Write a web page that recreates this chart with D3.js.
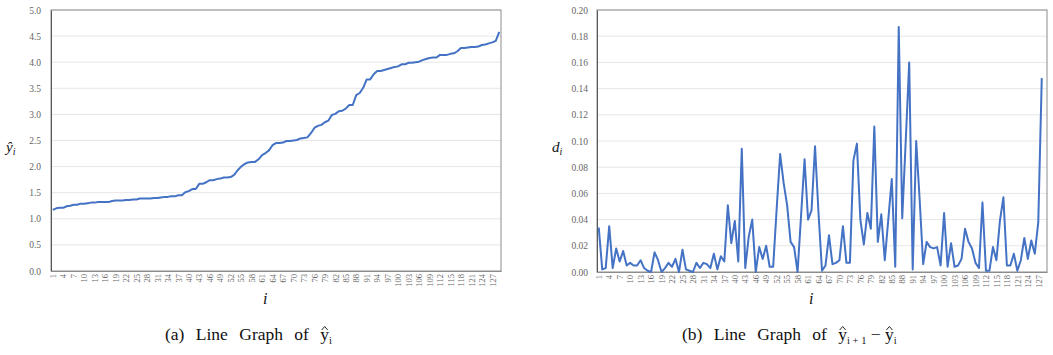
<!DOCTYPE html>
<html lang="en">
<head>
<meta charset="UTF-8">
<title>Line Graphs of y-hat and its differences</title>
<style>
  body { margin: 0; background: #fff; }
  svg text { font-family: "Liberation Serif", "DejaVu Serif", serif; }
</style>
</head>
<body>
<div id="chart"></div>
<script src="https://d3js.org/d3.v7.min.js"></script>
<script>
// categories on the x axis (1..129) and the labels that are shown
const index = d3.range(1, 130);
const xTickLabels = [1, 4, 7, 10, 13, 16, 19, 22, 25, 28, 31, 34, 37, 40, 43, 46, 49, 52, 55, 58,
  61, 64, 67, 70, 73, 76, 79, 82, 85, 88, 91, 94, 97, 100, 103, 106, 109, 112, 115, 118, 121, 124, 127];

// (a) fitted values y-hat_i
const yHat = [
  1.17, 1.20, 1.21, 1.21, 1.24, 1.25, 1.27, 1.27, 1.29, 1.29,
  1.30, 1.31, 1.31, 1.32, 1.32, 1.32, 1.32, 1.34, 1.35, 1.35,
  1.35, 1.36, 1.36, 1.37, 1.37, 1.39, 1.39, 1.39, 1.39, 1.40,
  1.40, 1.41, 1.42, 1.42, 1.43, 1.43, 1.45, 1.45, 1.51, 1.53,
  1.57, 1.57, 1.67, 1.67, 1.70, 1.74, 1.74, 1.76, 1.77, 1.79,
  1.79, 1.80, 1.84, 1.93, 2.00, 2.05, 2.08, 2.09, 2.09, 2.14,
  2.22, 2.26, 2.31, 2.41, 2.45, 2.45, 2.46, 2.49, 2.49, 2.50,
  2.51, 2.54, 2.55, 2.56, 2.64, 2.74, 2.78, 2.80, 2.85, 2.88,
  2.99, 3.01, 3.06, 3.07, 3.11, 3.18, 3.18, 3.37, 3.41, 3.51,
  3.67, 3.67, 3.77, 3.83, 3.83, 3.85, 3.87, 3.89, 3.91, 3.92,
  3.96, 3.96, 3.99, 3.99, 4.00, 4.01, 4.04, 4.06, 4.08, 4.09,
  4.09, 4.14, 4.14, 4.14, 4.16, 4.17, 4.21, 4.27, 4.27, 4.28,
  4.29, 4.29, 4.30, 4.33, 4.34, 4.36, 4.38, 4.41, 4.58
];

// (b) differences d_i
const diffs = [
  0.034, 0.002, 0.003, 0.035, 0.003, 0.018, 0.008, 0.016, 0.005, 0.007,
  0.005, 0.005, 0.009, 0.003, 0.001, 0.000, 0.015, 0.009, 0.000, 0.003,
  0.007, 0.004, 0.010, 0.000, 0.017, 0.002, 0.001, 0.000, 0.007, 0.003,
  0.007, 0.006, 0.003, 0.014, 0.002, 0.012, 0.008, 0.051, 0.022, 0.039,
  0.008, 0.094, 0.003, 0.027, 0.040, 0.000, 0.019, 0.010, 0.020, 0.004,
  0.004, 0.048, 0.090, 0.068, 0.051, 0.023, 0.019, 0.000, 0.043, 0.086,
  0.040, 0.047, 0.096, 0.045, 0.001, 0.005, 0.028, 0.006, 0.007, 0.009,
  0.035, 0.007, 0.007, 0.085, 0.098, 0.040, 0.021, 0.045, 0.033, 0.111,
  0.023, 0.044, 0.009, 0.040, 0.071, 0.004, 0.187, 0.041, 0.100, 0.160,
  0.002, 0.100, 0.055, 0.006, 0.023, 0.019, 0.018, 0.019, 0.005, 0.045,
  0.004, 0.022, 0.004, 0.005, 0.010, 0.033, 0.023, 0.018, 0.007, 0.003,
  0.053, 0.001, 0.001, 0.019, 0.009, 0.039, 0.057, 0.005, 0.005, 0.014,
  0.001, 0.009, 0.026, 0.010, 0.024, 0.014, 0.038, 0.148
];

const yHatTicks = [0, 0.5, 1.0, 1.5, 2.0, 2.5, 3.0, 3.5, 4.0, 4.5, 5.0];
const diffTicks = [0, 0.02, 0.04, 0.06, 0.08, 0.10, 0.12, 0.14, 0.16, 0.18, 0.20];

const serif = "Liberation Serif, DejaVu Serif, serif";

const svg = d3.select("#chart").append("svg")
  .attr("width", 1053)
  .attr("height", 355)
  .style("display", "block");

function drawPanel(p) {
  const x = d3.scalePoint().domain(index).range([p.x0, p.x1]).padding(0.5);
  const y = d3.scaleLinear().domain([p.ticks[0], p.ticks[p.ticks.length - 1]]).range([p.y1, p.y0]);
  const g = svg.append("g");

  // horizontal gridlines
  g.append("g").selectAll("line")
    .data(p.ticks.slice(1))
    .join("line")
    .attr("x1", p.x0).attr("x2", p.x1)
    .attr("y1", d => y(d)).attr("y2", d => y(d))
    .attr("stroke", "#e6e6e6");

  // plot frame
  g.append("rect")
    .attr("x", p.x0).attr("y", p.y0)
    .attr("width", p.x1 - p.x0).attr("height", p.y1 - p.y0)
    .attr("fill", "none")
    .attr("stroke", "#8c8c8c");

  // y axis
  const ya = g.append("g")
    .attr("transform", `translate(${p.x0},0)`)
    .call(d3.axisLeft(y).tickValues(p.ticks).tickFormat(d3.format(p.fmt)).tickSize(0).tickPadding(p.pad));
  ya.attr("font-family", serif).attr("font-size", 9.5);
  ya.select(".domain").attr("stroke", "#595959");
  ya.selectAll("text").attr("fill", "#666");

  // x axis, labels turned upright
  const xa = g.append("g")
    .attr("transform", `translate(0,${p.y1})`)
    .call(d3.axisBottom(x).tickValues(xTickLabels).tickSize(0));
  xa.attr("font-family", serif).attr("font-size", 8.5);
  xa.select(".domain").attr("stroke", "#8c8c8c");
  xa.selectAll("text")
    .attr("fill", "#666")
    .attr("transform", "rotate(-90)")
    .attr("x", -3).attr("y", 0).attr("dy", "0.32em")
    .style("text-anchor", "end");

  // data line
  g.append("path")
    .datum(p.values)
    .attr("fill", "none")
    .attr("stroke", "#4472c4")
    .attr("stroke-width", 2)
    .attr("stroke-linejoin", "round")
    .attr("d", d3.line().x((d, i) => x(index[i])).y(d => y(d)));

  // axis titles
  const yt = g.append("text")
    .attr("x", p.yTitleX).attr("y", 152)
    .attr("font-size", 15).attr("font-style", "italic").attr("fill", "#111");
  yt.append("tspan").text(p.yTitle);
  yt.append("tspan").text("i").attr("font-size", 10).attr("dy", 3);

  g.append("text")
    .attr("x", (p.x0 + p.x1) / 2 - 13).attr("y", 304)
    .attr("font-size", 16).attr("font-style", "italic").attr("fill", "#111")
    .text("i");
}

drawPanel({ x0: 51, x1: 501, y0: 10, y1: 271, values: yHat, ticks: yHatTicks, fmt: ".1f", pad: 10, yTitle: "ŷ", yTitleX: 6 });
drawPanel({ x0: 597, x1: 1047, y0: 10, y1: 272, values: diffs, ticks: diffTicks, fmt: ".2f", pad: 9, yTitle: "d", yTitleX: 552 });

// captions; a small hat is drawn above each y
function caption(x0, y0, parts) {
  const t = svg.append("text")
    .attr("x", x0).attr("y", y0)
    .attr("font-size", 17.5).attr("fill", "#111")
    .attr("xml:space", "preserve");
  let shift = 0;
  const hats = [];
  parts.forEach(part => {
    const s = t.append("tspan").text(part.text)
      .style("word-spacing", part.tight ? "0px" : "7px");
    const want = part.sub ? 4 : 0;
    if (want !== shift) { s.attr("dy", want - shift); shift = want; }
    if (part.sub) s.attr("font-size", 10.5);
    if (part.hat) hats.push(s);
  });
  hats.forEach(s => {
    const box = s.node().getExtentOfChar(0);
    const cx = box.x + box.width / 2;
    svg.append("path")
      .attr("d", `M${cx - 3},${y0 - 10} L${cx},${y0 - 13.5} L${cx + 3},${y0 - 10}`)
      .attr("fill", "none")
      .attr("stroke", "#111")
      .attr("stroke-width", 0.9);
  });
}

caption(165, 340, [
  { text: "(a) Line Graph of " },
  { text: "y", hat: true },
  { text: "i", sub: true, tight: true }
]);
caption(682, 340, [
  { text: "(b) Line Graph of " },
  { text: "y", hat: true },
  { text: "i + 1", sub: true, tight: true },
  { text: " − ", tight: true },
  { text: "y", hat: true },
  { text: "i", sub: true, tight: true }
]);
</script>
</body>
</html>
